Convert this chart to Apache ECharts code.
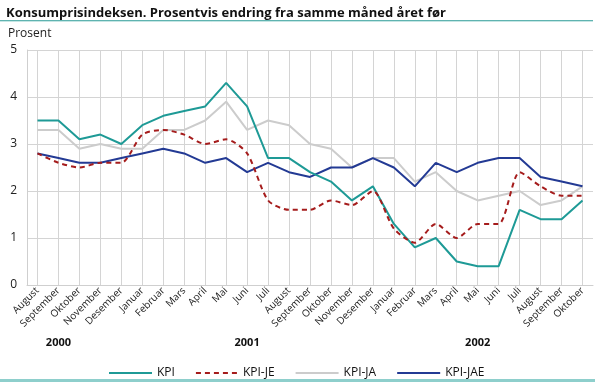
<!DOCTYPE html>
<html>
<head>
<meta charset="utf-8">
<script src="https://cdn.jsdelivr.net/npm/echarts@6/dist/echarts.min.js"></script>
<style>
html,body{margin:0;padding:0;background:#fff;}
#c{width:595px;height:382px;}
</style>
</head>
<body>
<div id="c"></div>
<script>
const months = ["August","September","Oktober","November","Desember","Januar","Februar","Mars","April","Mai","Juni","Juli","August","September","Oktober","November","Desember","Januar","Februar","Mars","April","Mai","Juni","Juli","August","September","Oktober"];
const yearLabels = {1:"2000",10:"2001",21:"2002"};
const kpi =   [3.5,3.5,3.1,3.2,3.0,3.4,3.6,3.7,3.8,4.3,3.8,2.7,2.7,2.4,2.2,1.8,2.1,1.3,0.8,1.0,0.5,0.4,0.4,1.6,1.4,1.4,1.8];
const kpiJE = [2.8,2.6,2.5,2.6,2.6,3.2,3.3,3.2,3.0,3.1,2.8,1.8,1.6,1.6,1.8,1.7,2.0,1.2,0.9,1.3,1.0,1.3,1.3,2.4,2.1,1.9,1.9];
const kpiJA = [3.3,3.3,2.9,3.0,2.9,2.9,3.3,3.3,3.5,3.9,3.3,3.5,3.4,3.0,2.9,2.5,2.7,2.7,2.2,2.4,2.0,1.8,1.9,2.0,1.7,1.8,2.1];
const kpiJAE =[2.8,2.7,2.6,2.6,2.7,2.8,2.9,2.8,2.6,2.7,2.4,2.6,2.4,2.3,2.5,2.5,2.7,2.5,2.1,2.6,2.4,2.6,2.7,2.7,2.3,2.2,2.1];
const yTicks = [0,1,2,3,4,5];

const FONT = "'Open Sans', 'Noto Sans', sans-serif";
const SOLID = 'path://M0,0H43V2H0Z';
const DASH = 'path://M0,0H5V2H0Z M9,0H14V2H9Z M18,0H23V2H18Z M27,0H32V2H27Z M36,0H41V2H36Z';
const chart = echarts.init(document.getElementById('c'), null, {renderer:'canvas'});
const lineBase = {type:'line', showSymbol:false, symbol:'none', animation:false};
chart.setOption({
  animation:false,
  textStyle:{fontFamily:FONT},
  title:{text:'Konsumprisindeksen. Prosentvis endring fra samme måned året før', left:1, top:2,
    textStyle:{fontFamily:FONT, fontSize:13, fontWeight:'bold', color:'#111'}},
  grid:{left:27, right:2, top:50, bottom:97, containLabel:false},
  legend:{left:104, top:362, itemWidth:43, itemHeight:2, itemGap:21,
    textStyle:{fontFamily:FONT, fontSize:12, color:'#111'},
    data:[{name:'KPI', icon:SOLID},{name:'KPI-JE', icon:DASH},{name:'KPI-JA', icon:SOLID},{name:'KPI-JAE', icon:SOLID}]},
  xAxis:[{
    type:'category', data:months, boundaryGap:true,
    axisLine:{show:true, lineStyle:{color:'#cfcfcf', width:1}},
    axisTick:{show:false},
    splitLine:{show:true, alignWithLabel:true, lineStyle:{color:'#d4d4d4', width:1}},
    axisLabel:{interval:0, rotate:45, fontSize:10, color:'#222', margin:4, fontFamily:FONT}
  },{
    type:'category', data:months, boundaryGap:true, position:'bottom', offset:44,
    axisLine:{show:false}, axisTick:{show:false}, splitLine:{show:false},
    axisLabel:{interval:0, fontSize:11, fontWeight:'bold', color:'#111', fontFamily:FONT,
      formatter:function(v,i){return yearLabels[i]||'';}}
  }],
  yAxis:{type:'value', min:yTicks[0], max:yTicks[yTicks.length-1], interval:1,
    name:'Prosent', nameLocation:'end', nameGap:10,
    nameTextStyle:{align:'left', padding:[0,0,0,-19], fontSize:12, color:'#222', fontFamily:FONT},
    axisLine:{show:true, lineStyle:{color:'#cfcfcf'}},
    axisTick:{show:false},
    splitLine:{show:true, lineStyle:{color:'#d4d4d4', width:1}},
    axisLabel:{fontSize:12, color:'#222', margin:10, fontFamily:FONT}
  },
  series:[
    Object.assign({}, lineBase, {name:'KPI', data:kpi, z:4, lineStyle:{color:'#1e9a96', width:2}, itemStyle:{color:'#1e9a96'}}),
    Object.assign({}, lineBase, {name:'KPI-JE', data:kpiJE, z:5, smooth:0.25, lineStyle:{color:'#a51c1c', width:2, type:[5,4]}, itemStyle:{color:'#a51c1c'}}),
    Object.assign({}, lineBase, {name:'KPI-JA', data:kpiJA, z:2, lineStyle:{color:'#cccccc', width:2}, itemStyle:{color:'#cccccc'}}),
    Object.assign({}, lineBase, {name:'KPI-JAE', data:kpiJAE, z:3, lineStyle:{color:'#233a94', width:2}, itemStyle:{color:'#233a94'}})
  ],
  graphic:[
    {type:'rect', shape:{x:0,y:20,width:593,height:1}, style:{fill:'#5fb3b0'}, silent:true},
    {type:'rect', shape:{x:0,y:21,width:593,height:1}, style:{fill:'#c5e6e4'}, silent:true},
    {type:'rect', shape:{x:0,y:379,width:595,height:3}, style:{fill:'#8ecfcc'}, silent:true}
  ]
});
</script>
</body>
</html>
